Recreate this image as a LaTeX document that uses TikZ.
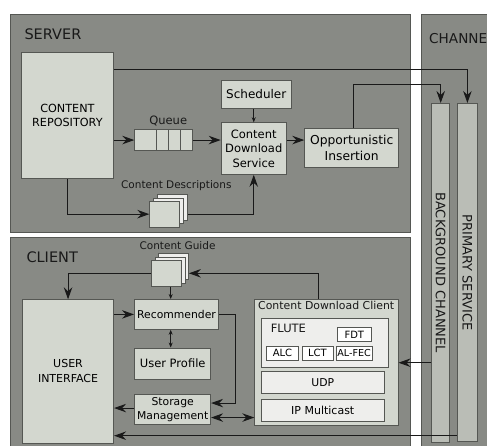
\documentclass[tikz,border=0pt]{standalone}
\usepackage{fontspec}
\setmainfont{DejaVu Sans}
\usetikzlibrary{arrows.meta,calc}

\definecolor{panel}{HTML}{888A85}
\definecolor{edge}{HTML}{555753}
\definecolor{boxfill}{HTML}{D3D7CF}
\definecolor{barfill}{HTML}{BABDB6}
\definecolor{layerfill}{HTML}{EEEEEC}

\newcommand\fsz[2]{\fontsize{#1}{#2}\selectfont}
% \blk{name}{x}{y}{width}{height}{style}{text}: box placed by its top-left corner
\newcommand\blk[7]{\node[#6, anchor=north west, minimum width=#4pt, minimum height=#5pt] (#1) at (#2,#3) {#7};}

\tikzset{
  panelbox/.style={draw=edge, fill=panel, line width=0.8pt, inner sep=0pt},
  block/.style={draw=edge, fill=boxfill, line width=0.8pt, inner sep=1pt, align=center, text=black},
  bar/.style={draw=edge, fill=barfill, line width=0.8pt, inner sep=0pt},
  layer/.style={draw=edge, fill=layerfill, line width=0.8pt, inner sep=0pt, align=center},
  tagbox/.style={draw=edge, fill=white, line width=0.6pt, inner sep=0pt, align=center, font=\fsz{10}{12}},
  sheet/.style={draw=edge, fill=layerfill, line width=0.6pt, inner sep=0pt},
  frontsheet/.style={sheet, fill=boxfill},
  heading/.style={anchor=base west, text=black!90, font=\fsz{14.5}{17}},
  caption/.style={anchor=base, text=black!90, font=\fsz{10.5}{12}},
  bigtip/.style={Stealth[length=12pt,width=8.5pt,inset=4pt]},
  arr/.style={draw=black!90, line width=1pt, -{Stealth[length=12pt,width=8.5pt,inset=4pt]}},
  biarr/.style={draw=black!90, line width=1pt, {Stealth[length=12pt,width=8.5pt,inset=4pt]}-{Stealth[length=12pt,width=8.5pt,inset=4pt]}},
  smallarr/.style={draw=black!90, line width=0.7pt, -{Stealth[length=5pt,width=4pt]}},
  smallbiarr/.style={draw=black!90, line width=0.7pt, {Stealth[length=5pt,width=4pt]}-{Stealth[length=5pt,width=4pt]}}
}

\begin{document}
\begin{tikzpicture}[x=1pt,y=-1pt]
\useasboundingbox[fill=white] (0,0) rectangle (487,445);

% ---------- panels ----------
\blk{server}{10}{14}{400}{217.5}{panelbox}{}
\blk{client}{10}{237}{400}{215}{panelbox}{}
\blk{channel}{420.7}{14}{80}{440}{panelbox}{}
\node[heading] (serverlbl) at (21,39.3) {SERVER};
\node[heading] (clientlbl) at (23,262.7) {CLIENT};
\node[heading, font=\fsz{13.6}{17}] (channellbl) at (425.7,43) {CHANNEL};

% ---------- channel bars ----------
\blk{bg}{431.3}{103}{18}{338.5}{bar}{}
\blk{prim}{456.7}{103}{20.6}{338}{bar}{}
\node[rotate=-90, font=\fsz{13}{15}, text=black!90] (bgtext) at (bg.center) {BACKGROUND CHANNEL};
\node[rotate=-90, font=\fsz{13}{15}, text=black!90] (primtext) at (prim.center) {PRIMARY SERVICE};

% ---------- server ----------
\blk{repo}{21}{52}{92}{126}{block, font=\fsz{11.2}{14.7}}{CONTENT\\REPOSITORY}
\blk{queue}{134.3}{129.3}{58}{20.7}{block}{}
\foreach \d in {22.4,34,46}
  \draw[draw=edge, line width=0.6pt] ([xshift=\d pt]queue.north west) -- ([xshift=\d pt]queue.south west);
\node[caption, font=\fsz{11.5}{13}] (queuelbl) at (168.2,124) {Queue};
\blk{sched}{220.7}{80}{70.3}{27.7}{block, font=\fsz{12}{14}}{Scheduler}
\blk{cds}{220.7}{122.3}{65.3}{51.7}{block, font=\fsz{11.5}{14.6}}{Content\\Download\\Service}
\blk{opp}{304.3}{128.3}{94}{39}{block, font=\fsz{12.3}{15.7}}{Opportunistic\\Insertion}

% content descriptions: stacked sheets
\blk{descC}{157.3}{194.3}{30}{25.7}{sheet}{}
\blk{descB}{153.3}{197.6}{30}{25.7}{sheet}{}
\blk{descA}{149.3}{201}{30}{25.7}{frontsheet}{}
\node[caption] (desclbl) at (176.3,188.3) {Content Descriptions};

% ---------- client ----------
\blk{ui}{22}{299.3}{91.3}{143.4}{block, font=\fsz{11}{15}}{USER\\INTERFACE}
\blk{guideC}{158.3}{253.3}{30}{26}{sheet}{}
\blk{guideB}{154.5}{256.6}{30}{26}{sheet}{}
\blk{guideA}{150.7}{260}{30}{26}{frontsheet}{}
\node[caption] (guidelbl) at (177.5,249.3) {Content Guide};
\blk{rec}{134}{299}{84.3}{30}{block, font=\fsz{10.8}{13}}{Recommender}
\blk{prof}{134.3}{347.5}{76}{31.3}{block, font=\fsz{11.5}{13}}{User Profile}
\blk{stor}{134.3}{394.3}{76}{29.7}{block, inner sep=0pt, font=\fsz{10.8}{13.4}}{Storage\\Management}

% content download client with its protocol stack
\blk{cdc}{254.3}{299}{143.4}{126}{block}{}
\node[caption, font=\fsz{10.9}{13}] (cdclbl) at (326.2,309.3) {Content Download Client};
\blk{flute}{261}{318.3}{127.3}{48.7}{layer}{}
\node[anchor=base west, font=\fsz{11.5}{13}, text=black!90] (flutelbl) at (267.3,332.7) {FLUTE};
\blk{fdt}{336.7}{327.3}{34.6}{13.7}{tagbox}{FDT}
\blk{alc}{266}{345.7}{32.3}{14.3}{tagbox}{ALC}
\blk{lct}{301.7}{345.7}{31}{14.3}{tagbox}{LCT}
\blk{alfec}{336}{345.7}{35.7}{14.3}{tagbox, font=\fsz{9.6}{12}}{AL-FEC}
\blk{udp}{261}{371.3}{122.7}{21.4}{layer, font=\fsz{10.8}{13}}{UDP}
\blk{ipm}{261}{399.3}{122.7}{21.7}{layer, font=\fsz{11}{13}}{IP Multicast}

% ---------- connectors: server ----------
\draw[arr] ([yshift=-17pt]repo.north east) -| (prim.north);
\draw[arr] ([xshift=1.4pt]opp.north) -- ++(0,-44) -| (bg.north);
\draw[smallarr] (cds.north |- sched.south) -- (cds.north);
\draw[arr] (cds.east |- queue.east) -- (opp.west |- queue.east);
\draw[arr] (repo.east |- queue.west) -- (queue.west);
\draw[arr] (queue.east) -- (cds.west |- queue.east);
\draw[arr] (repo.south) |- (descA.west);
\draw[arr] (descC.east |- descA.west) -| (cds.south);

% ---------- connectors: client ----------
\coordinate (gx) at (170.7,0);
\coordinate (storout) at ([yshift=1.5pt]stor.west);
\coordinate (storlink) at ([yshift=-8pt]stor.east);
\coordinate (storin) at ([yshift=6.5pt]stor.east);
\coordinate (bgtap) at (431.3,362.7);
\coordinate (primtap) at (456.7,435.7);
\draw[arr] ([xshift=-7.7pt]cdc.north) |- (guideC.east |- guideA.center);
\draw[arr] (guideA.west) -| (ui.north);
\draw[smallarr] (gx |- guideA.south) -- (gx |- rec.north);
\draw[smallbiarr] (gx |- rec.south) -- (gx |- prof.north);
\draw[arr] (ui.east |- rec.west) -- (rec.west);
\draw[arr] (rec.east) -- ++(16,0) |- (storin);
\draw[arr] (storout) -- (ui.east |- storout);
\draw[biarr] (storlink) -- (cdc.west |- storlink);
\draw[arr] (bgtap) -- (cdc.east |- bgtap);
\draw[arr] (primtap) -- (ui.east |- primtap);
\end{tikzpicture}
\end{document}
